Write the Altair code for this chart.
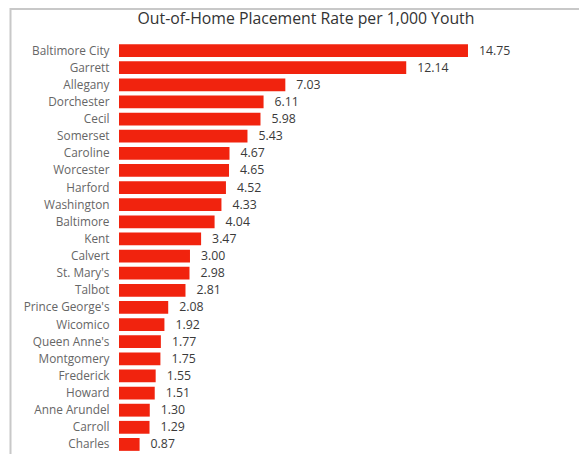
import altair as alt
import pandas as pd

counties = ["Baltimore City", "Garrett", "Allegany", "Dorchester", "Cecil", "Somerset",
            "Caroline", "Worcester", "Harford", "Washington", "Baltimore", "Kent",
            "Calvert", "St. Mary's", "Talbot", "Prince George's", "Wicomico",
            "Queen Anne's", "Montgomery", "Frederick", "Howard", "Anne Arundel",
            "Carroll", "Charles"]
rates = [14.75, 12.14, 7.03, 6.11, 5.98, 5.43, 4.67, 4.65, 4.52, 4.33, 4.04, 3.47,
         3.00, 2.98, 2.81, 2.08, 1.92, 1.77, 1.75, 1.55, 1.51, 1.30, 1.29, 0.87]
title_text = "Out-of-Home Placement Rate per 1,000 Youth"

df = pd.DataFrame({"county": counties, "rate": rates})
df["label"] = [f"{r:.2f}" for r in rates]

FONT = "Open Sans"
W, H = 374, 412

y = alt.Y("county:N", sort=counties, title=None,
          scale=alt.Scale(paddingInner=0.25, paddingOuter=0.125, range=[0, 411]),
          axis=alt.Axis(domain=False, ticks=False, labelPadding=10,
                        labelFont=FONT, labelFontSize=11.8, labelColor="#666666"))
x = alt.X("rate:Q", title=None, scale=alt.Scale(domain=[0, W / 23.66], nice=False),
          axis=None)

bars = alt.Chart(df).mark_bar(color="#F1230E").encode(x=x, y=y)
labels = alt.Chart(df).mark_text(align="left", dx=11, font=FONT, fontSize=12.3,
                                 color="#3A3A3A").encode(x=x, y=y, text="label:N")

frame = pd.DataFrame({"t": [title_text]})
top_line = alt.Chart(frame).mark_rule(color="#C8C8C8", strokeWidth=2).encode(
    x=alt.value(-109), x2=alt.value(480), y=alt.value(-33))
left_line = alt.Chart(frame).mark_rule(color="#C8C8C8", strokeWidth=2).encode(
    x=alt.value(-108.5), y=alt.value(-34), y2=alt.value(425))
title = alt.Chart(frame).mark_text(font=FONT, fontSize=15.8, color="#333333",
                                   align="center", baseline="middle").encode(
    x=alt.value(W / 2), y=alt.value(-23), text="t:N")

chart = alt.layer(bars, labels, top_line, left_line, title).properties(
    width=W, height=H,
    autosize=alt.AutoSizeParams(type="none"),
    padding={"left": 111, "top": 34, "right": 86, "bottom": 0},
).configure_view(stroke=None)

chart.save("out.html", embed_options={"renderer": "svg", "actions": False})
